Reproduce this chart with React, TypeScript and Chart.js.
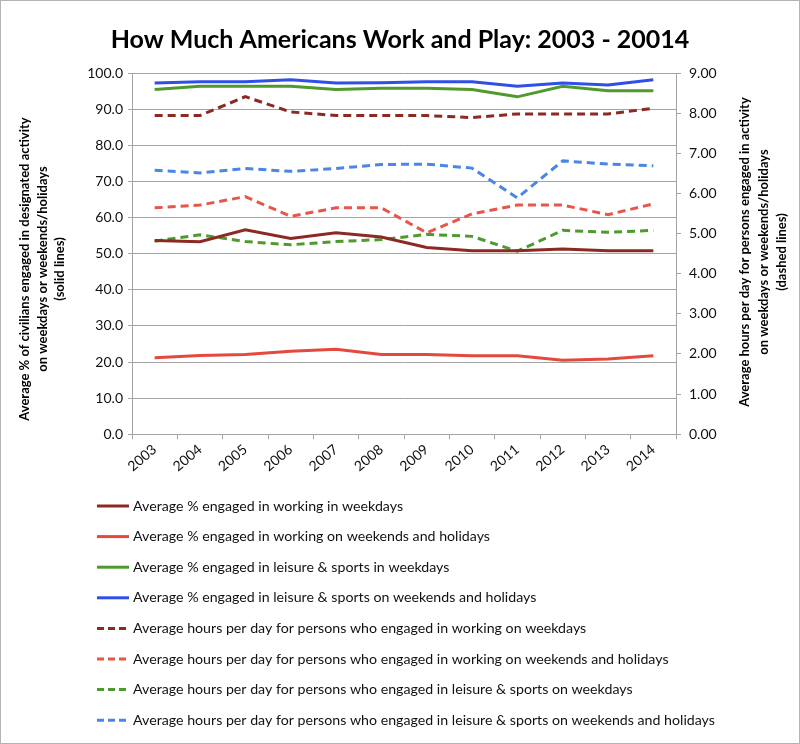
import { useEffect, useRef } from 'react';
import { Chart, registerables } from 'chart.js';

Chart.register(...registerables);

const years = ['2003', '2004', '2005', '2006', '2007', '2008', '2009', '2010', '2011', '2012', '2013', '2014'];

const pctWorkWeekdays = [53.6, 53.3, 56.6, 54.2, 55.8, 54.6, 51.7, 50.8, 50.8, 51.3, 50.8, 50.8];
const pctWorkWeekends = [21.2, 21.8, 22.1, 23.0, 23.5, 22.1, 22.1, 21.7, 21.7, 20.5, 20.8, 21.7];
const pctLeisureWeekdays = [95.4, 96.3, 96.3, 96.3, 95.4, 95.8, 95.8, 95.4, 93.4, 96.3, 95.1, 95.1];
const pctLeisureWeekends = [97.2, 97.6, 97.6, 98.1, 97.2, 97.3, 97.6, 97.6, 96.3, 97.2, 96.7, 98.1];

const hrsWorkWeekdays = [7.94, 7.94, 8.41, 8.03, 7.94, 7.94, 7.94, 7.89, 7.98, 7.98, 7.98, 8.12];
const hrsWorkWeekends = [5.64, 5.71, 5.92, 5.43, 5.64, 5.64, 5.02, 5.49, 5.71, 5.71, 5.47, 5.74];
const hrsLeisureWeekdays = [4.81, 4.97, 4.80, 4.72, 4.80, 4.85, 4.98, 4.93, 4.56, 5.08, 5.03, 5.08];
const hrsLeisureWeekends = [6.58, 6.51, 6.62, 6.55, 6.62, 6.72, 6.73, 6.63, 5.89, 6.81, 6.73, 6.69];

const labels = [
  'Average % engaged in working in weekdays',
  'Average % engaged in working on weekends and holidays',
  'Average % engaged in leisure & sports in weekdays',
  'Average % engaged in leisure & sports on weekends and holidays',
  'Average hours per day for persons who engaged in working on weekdays',
  'Average hours per day for persons who engaged in working on weekends and holidays',
  'Average hours per day for persons who engaged in leisure & sports on weekdays',
  'Average hours per day for persons who engaged in leisure & sports on weekends and holidays',
];

const leftTitle = [
  'Average % of civilians engaged in designated activity',
  'on weekdays or weekends/holidays',
  '(solid lines)',
];
const rightTitle = [
  'Average hours per day for persons engaged in activity',
  'on weekdays or weekends/holidays',
  '(dashed lines)',
];

const leftTicks = { min: 0, max: 100, step: 10 };
const rightTicks = { min: 0, max: 9, step: 1 };

const FONT = 'Lato, "Open Sans", "DejaVu Sans", sans-serif';
const GRID = '#a4a4a4';
const DASH = [8, 5];

const legendPlugin = {
  id: 'stackLegend',
  afterDraw(chart: any) {
    const ctx = chart.ctx as CanvasRenderingContext2D;
    ctx.save();
    chart.data.datasets.forEach((ds: any, i: number) => {
      const y = 505 + i * 30.6;
      ctx.strokeStyle = ds.borderColor;
      ctx.lineWidth = 3;
      ctx.setLineDash(ds.borderDash && ds.borderDash.length ? [7, 4] : []);
      ctx.beginPath();
      ctx.moveTo(96, y);
      ctx.lineTo(128, y);
      ctx.stroke();
      ctx.setLineDash([]);
      ctx.fillStyle = '#111';
      ctx.font = `14.2px ${FONT}`;
      ctx.textBaseline = 'middle';
      ctx.textAlign = 'left';
      ctx.fillText(ds.label, 132, y);
    });
    ctx.restore();
  },
};

const axisTitlePlugin = {
  id: 'axisTitles',
  afterDraw(chart: any) {
    const ctx = chart.ctx as CanvasRenderingContext2D;
    const draw = (lines: string[], xs: number[], cy: number) => {
      lines.forEach((t, i) => {
        ctx.save();
        ctx.translate(xs[i], cy);
        ctx.rotate(-Math.PI / 2);
        ctx.fillStyle = '#000';
        ctx.font = `bold 13px ${FONT}`;
        ctx.textAlign = 'center';
        ctx.textBaseline = 'middle';
        ctx.fillText(t, 0, 0);
        ctx.restore();
      });
    };
    draw(leftTitle, [24, 42, 59], 268);
    draw(rightTitle, [744, 763, 781], 251);
  },
};

function makeSet(label: string, data: number[], color: string, axis: string, dashed: boolean) {
  return {
    label,
    data,
    borderColor: color,
    backgroundColor: color,
    borderWidth: 3,
    borderDash: dashed ? DASH : [],
    pointRadius: 0,
    tension: 0,
    fill: false,
    yAxisID: axis,
  };
}

export default function App() {
  const ref = useRef<HTMLCanvasElement | null>(null);

  useEffect(() => {
    document.body.style.margin = '0';
    const canvas = ref.current;
    if (!canvas) return;
    const chart = new Chart(canvas, {
      type: 'line',
      data: {
        labels: years,
        datasets: [
          makeSet(labels[0], pctWorkWeekdays, '#8c2a22', 'y', false),
          makeSet(labels[1], pctWorkWeekends, '#e4493d', 'y', false),
          makeSet(labels[2], pctLeisureWeekdays, '#4f9a2c', 'y', false),
          makeSet(labels[3], pctLeisureWeekends, '#2f4fe6', 'y', false),
          makeSet(labels[4], hrsWorkWeekdays, '#8c2a22', 'y1', true),
          makeSet(labels[5], hrsWorkWeekends, '#e8564a', 'y1', true),
          makeSet(labels[6], hrsLeisureWeekdays, '#4f9a2c', 'y1', true),
          makeSet(labels[7], hrsLeisureWeekends, '#4a86e8', 'y1', true),
        ],
      },
      options: {
        animation: false,
        responsive: false,
        maintainAspectRatio: false,
        layout: { padding: { left: 0, right: 0, top: 0, bottom: 266 } },
        plugins: {
          legend: { display: false },
          tooltip: { enabled: false },
          title: {
            display: true,
            text: 'How Much Americans Work and Play: 2003 - 20014',
            color: '#000',
            font: { family: FONT, size: 25, weight: 'bold' },
            padding: { top: 24, bottom: 18 },
          },
        },
        scales: {
          x: {
            offset: true,
            grid: { display: true, drawOnChartArea: false, drawTicks: true, tickLength: 5, color: GRID, offset: true },
            border: { display: true, color: GRID, width: 1 },
            ticks: { color: '#111', font: { family: FONT, size: 14 }, minRotation: 40, maxRotation: 40, padding: 2 },
          },
          y: {
            position: 'left',
            min: leftTicks.min,
            max: leftTicks.max,
            afterFit: (s: any) => { s.width = 131; },
            grid: { color: GRID, tickLength: 4, drawTicks: true },
            border: { display: true, color: GRID, width: 1 },
            ticks: {
              stepSize: leftTicks.step,
              color: '#111',
              font: { family: FONT, size: 14 },
              padding: 5,
              callback: (v: any) => Number(v).toFixed(1),
            },
          },
          y1: {
            position: 'right',
            min: rightTicks.min,
            max: rightTicks.max,
            afterFit: (s: any) => { s.width = 123; },
            grid: { drawOnChartArea: false, drawTicks: true, tickLength: 5, color: GRID },
            border: { display: true, color: GRID, width: 1 },
            ticks: {
              stepSize: rightTicks.step,
              color: '#111',
              font: { family: FONT, size: 14 },
              padding: 8,
              callback: (v: any) => Number(v).toFixed(2),
            },
          },
        },
      },
      plugins: [legendPlugin, axisTitlePlugin],
    });
    return () => chart.destroy();
  }, []);

  return (
    <div
      style={{
        width: 800,
        height: 744,
        boxSizing: 'border-box',
        border: '1px solid #b4b4b4',
        background: '#fff',
        position: 'relative',
      }}
    >
      <canvas ref={ref} width={798} height={742} style={{ display: 'block', width: 798, height: 742 }} />
    </div>
  );
}
